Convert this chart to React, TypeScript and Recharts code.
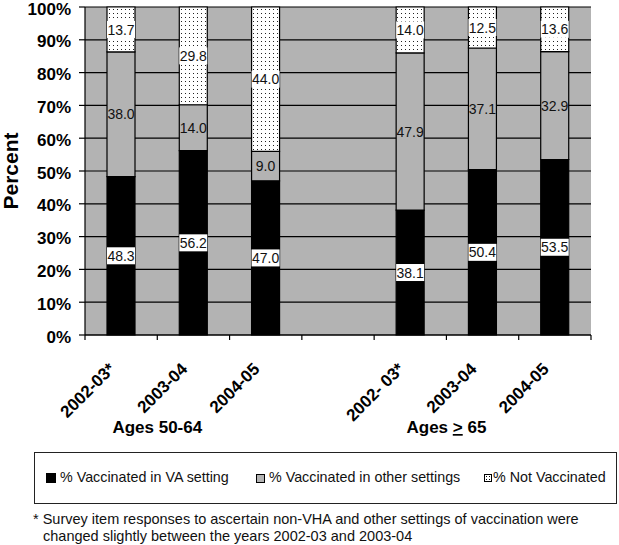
import React from 'react';
import { BarChart, Bar, XAxis, YAxis, CartesianGrid, LabelList, Legend } from 'recharts';

// ---- data ----
const slotKeys = ['a1', 'a2', 'a3', 'gap', 'b1', 'b2', 'b3'];
const yearLabels = ['2002-03*', '2003-04', '2004-05', '', '2002- 03*', '2003-04', '2004-05'];
const vaSetting = [48.3, 56.2, 47.0, null, 38.1, 50.4, 53.5];
const otherSettings = [38.0, 14.0, 9.0, null, 47.9, 37.1, 32.9];
const notVaccinated = [13.7, 29.8, 44.0, null, 14.0, 12.5, 13.6];
const yTicks = [0, 10, 20, 30, 40, 50, 60, 70, 80, 90, 100];
const seriesNames = ['% Vaccinated in VA setting', '% Vaccinated in other settings', '% Not Vaccinated'];
const footnote = [
  '* Survey item responses to ascertain non-VHA and other settings of vaccination were',
  'changed slightly between the years 2002-03 and 2003-04',
];

const data = slotKeys.map((k, i) => ({
  key: k,
  va: vaSetting[i],
  other: otherSettings[i],
  notv: notVaccinated[i],
}));

// ---- layout ----
const W = 619;
const H = 545;
const PLOT_LEFT = 85;
const PLOT_RIGHT = 591;
const PLOT_TOP = 7;
const PLOT_BOTTOM = 335;
const SLOT_W = (PLOT_RIGHT - PLOT_LEFT) / slotKeys.length;
const FONT = '"Liberation Sans", Arial, Helvetica, sans-serif';
const GRAY = '#b3b3b3';

const XTick = (props: any) => {
  const { x, y, index } = props;
  const half = SLOT_W / 2;
  const label = yearLabels[index];
  const ax = x - 5;
  const ay = y + 35;
  return (
    <g>
      <line x1={x - half} y1={y} x2={x - half} y2={y + 5} stroke="#000" strokeWidth={1.2} />
      {index === slotKeys.length - 1 && (
        <line x1={x + half} y1={y} x2={x + half} y2={y + 5} stroke="#000" strokeWidth={1.2} />
      )}
      {label && (
        <text
          x={ax}
          y={ay}
          transform={`rotate(-45, ${ax}, ${ay})`}
          textAnchor="end"
          fontFamily={FONT}
          fontWeight="bold"
          fontSize={17}
          fill="#000"
        >
          {label}
        </text>
      )}
      {index === 1 && (
        <text x={x - half} y={y + 98} textAnchor="middle" fontFamily={FONT} fontWeight="bold" fontSize={17} fill="#000">
          Ages 50-64
        </text>
      )}
      {index === 5 && (
        <text x={x - half} y={y + 98} textAnchor="middle" fontFamily={FONT} fontWeight="bold" fontSize={17} fill="#000">
          Ages <tspan textDecoration="underline" style={{ textDecoration: 'underline' }}>&gt;</tspan> 65
        </text>
      )}
    </g>
  );
};

const YTick = (props: any) => {
  const { x, y, payload } = props;
  return (
    <text
      x={x}
      y={y + 1.5}
      dy="0.355em"
      textAnchor="end"
      fontFamily={FONT}
      fontWeight="bold"
      fontSize={17}
      fill="#000"
    >
      {`${payload.value}%`}
    </text>
  );
};

const makeLabel = (boxed: boolean) => (props: any) => {
  const { x, y, width, height, value } = props;
  if (value == null) return null;
  const cx = Number(x) + Number(width) / 2;
  const cy = Number(y) + Number(height) / 2;
  const txt = Number(value).toFixed(1);
  return (
    <g>
      {boxed && <rect x={cx - 14} y={cy - 8.5} width={28} height={17} fill="#fff" />}
      <text x={cx} y={cy} dy="0.36em" textAnchor="middle" fontFamily={FONT} fontSize={14} fill="#111">
        {txt}
      </text>
    </g>
  );
};

const PercentLabel = (props: any) => {
  const vb = props.viewBox || { x: 0, y: PLOT_TOP, width: 85, height: PLOT_BOTTOM - PLOT_TOP };
  const cx = vb.x + 18;
  const cy = vb.y + vb.height / 2;
  return (
    <text
      x={cx}
      y={cy}
      transform={`rotate(-90, ${cx}, ${cy})`}
      textAnchor="middle"
      fontFamily={FONT}
      fontWeight="bold"
      fontSize={21}
      fill="#000"
    >
      Percent
    </text>
  );
};

const LegendBox = () => {
  const items = [
    { sq: 11, tx: 25, size: 10, fill: '#000', border: 'none' },
    { sq: 221, tx: 234, size: 9, fill: GRAY, border: '1px solid #000' },
    { sq: 449, tx: 458, size: 8, fill: '#fff', border: '1px solid #000' },
  ];
  return (
    <div
      style={{
        position: 'relative',
        width: 583,
        height: 52,
        border: '1.5px solid #222',
        boxSizing: 'border-box',
        background: '#fff',
        fontFamily: FONT,
      }}
    >
      {items.map((it, i) => (
        <React.Fragment key={i}>
          <div
            style={{
              position: 'absolute',
              left: it.sq,
              top: 25 - it.size / 2,
              width: it.size,
              height: it.size,
              background: it.fill,
              border: it.border,
              boxSizing: 'border-box',
              backgroundImage: i === 2 ? 'radial-gradient(#000 0.6px, transparent 0.7px)' : undefined,
              backgroundSize: i === 2 ? '3px 3px' : undefined,
            }}
          />
          <div
            style={{
              position: 'absolute',
              left: it.tx,
              top: 15,
              fontSize: 14.3,
              lineHeight: '18px',
              color: '#111',
              whiteSpace: 'nowrap',
            }}
          >
            {seriesNames[i]}
          </div>
        </React.Fragment>
      ))}
    </div>
  );
};

export default function App() {
  return (
    <div style={{ position: 'absolute', left: 0, top: 0, width: W, height: H, background: '#fff' }}>
      <BarChart
        width={W}
        height={H}
        data={data}
        margin={{ top: PLOT_TOP, right: W - PLOT_RIGHT, bottom: 0, left: 0 }}
        barSize={28}
      >
        <defs>
          <pattern id="dots" width="4" height="4" patternUnits="userSpaceOnUse">
            <rect x="0" y="0" width="4" height="4" fill="#fff" />
            <rect x="1" y="1" width="1" height="1" fill="#222" />
          </pattern>
        </defs>
        <CartesianGrid vertical={false} stroke="#000" strokeWidth={1.2} fill={GRAY} fillOpacity={1} />
        <XAxis
          dataKey="key"
          interval={0}
          tickLine={false}
          tickSize={0}
          tickMargin={0}
          axisLine={{ stroke: '#000', strokeWidth: 1.2 }}
          tick={<XTick />}
          height={H - PLOT_BOTTOM}
        />
        <YAxis
          width={PLOT_LEFT}
          domain={[0, 100]}
          ticks={yTicks}
          interval={0}
          tickSize={6}
          tickMargin={8}
          tickLine={{ stroke: '#000', strokeWidth: 1.2 }}
          axisLine={{ stroke: '#000', strokeWidth: 1.2 }}
          tick={<YTick />}
          label={<PercentLabel />}
        />
        <Legend
          verticalAlign="middle"
          layout="horizontal"
          wrapperStyle={{ left: 34, top: 452, width: 583, height: 52 }}
          content={<LegendBox />}
        />
        <Bar dataKey="va" name={seriesNames[0]} stackId="a" fill="#000" stroke="#000" strokeWidth={1.2} isAnimationActive={false}>
          <LabelList dataKey="va" content={makeLabel(true)} />
        </Bar>
        <Bar dataKey="other" name={seriesNames[1]} stackId="a" fill={GRAY} stroke="#000" strokeWidth={1.2} isAnimationActive={false}>
          <LabelList dataKey="other" content={makeLabel(false)} />
        </Bar>
        <Bar dataKey="notv" name={seriesNames[2]} stackId="a" fill="url(#dots)" stroke="#000" strokeWidth={1.2} isAnimationActive={false}>
          <LabelList dataKey="notv" content={makeLabel(true)} />
        </Bar>
      </BarChart>
      <svg
        width={W}
        height={40}
        style={{ position: 'absolute', left: 0, top: 505 }}
      >
        <text x={33} y={19} fontFamily={FONT} fontSize={14.5} fill="#111">
          {footnote[0]}
        </text>
        <text x={43} y={36} fontFamily={FONT} fontSize={14.5} fill="#111">
          {footnote[1]}
        </text>
      </svg>
    </div>
  );
}
